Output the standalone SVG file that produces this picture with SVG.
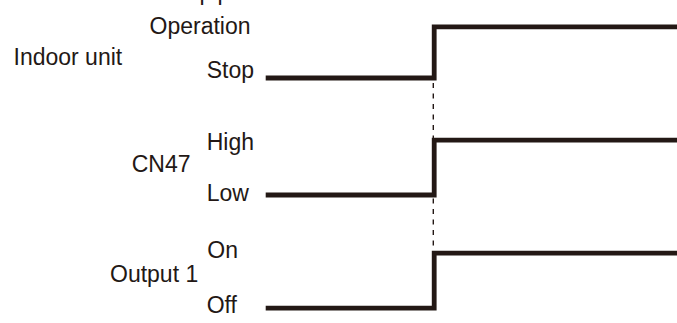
<svg xmlns="http://www.w3.org/2000/svg" width="677" height="323" viewBox="0 0 677 323">
  <style>
    text { font-family: "Liberation Sans", Arial, sans-serif; font-size: 23px; fill: #231815; }
    .wave { fill: none; stroke: #231815; stroke-width: 4.8; stroke-linejoin: miter; stroke-linecap: butt; }
    .guide { fill: none; stroke: #231815; stroke-width: 1.4; stroke-dasharray: 5 5.5; }
  </style>
  <rect x="0" y="0" width="677" height="323" fill="#ffffff"/>
  <g id="title-fragment">
    <text x="199.6" y="0.3">p</text>
    <text x="217.6" y="0.3">p</text>
  </g>
  <g id="indoor-unit">
    <text x="13.5" y="65">Indoor unit</text>
    <text x="149.5" y="33.5">Operation</text>
    <text x="206.7" y="77.5">Stop</text>
    <path class="wave" d="M265.7 78 H434.2 V26.8 H677"/>
  </g>
  <g id="cn47">
    <text x="131.7" y="171.7">CN47</text>
    <text x="206.7" y="150">High</text>
    <text x="206.7" y="200.5">Low</text>
    <path class="wave" d="M265.7 195 H434.2 V140.2 H677"/>
  </g>
  <g id="output-1">
    <text x="110" y="281.7">Output 1</text>
    <text x="207.3" y="258.3">On</text>
    <text x="206.7" y="313.3">Off</text>
    <path class="wave" d="M265.7 308.2 H434.2 V253.2 H677"/>
  </g>
  <g id="connectors">
    <line class="guide" x1="433.3" y1="83" x2="433.3" y2="252"/>
  </g>
</svg>
